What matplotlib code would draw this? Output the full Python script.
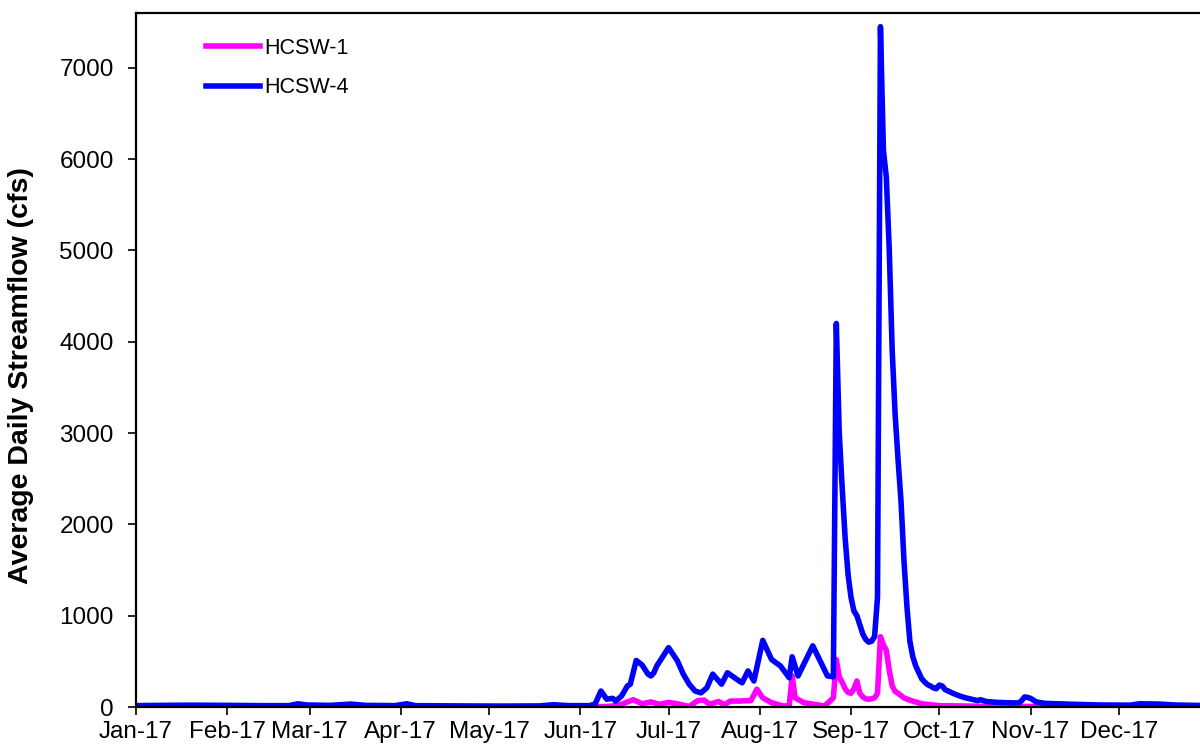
import matplotlib
matplotlib.use("Agg")
import matplotlib.pyplot as plt
import matplotlib.dates as mdates
import pandas as pd

# ── data ─────────────────────────────────────────────────────────────────────
hcsw4_dates = [
    "2017-01-01", "2017-01-10", "2017-01-20", "2017-02-01", "2017-02-12", "2017-02-22",
    "2017-02-25", "2017-02-28", "2017-03-08", "2017-03-15", "2017-03-20", "2017-03-30",
    "2017-04-03", "2017-04-06", "2017-04-20", "2017-05-05", "2017-05-18", "2017-05-23",
    "2017-05-28", "2017-06-04", "2017-06-06", "2017-06-08", "2017-06-10", "2017-06-12",
    "2017-06-13", "2017-06-15", "2017-06-17", "2017-06-18", "2017-06-20", "2017-06-22",
    "2017-06-24", "2017-06-25", "2017-06-26", "2017-06-27", "2017-07-01", "2017-07-04",
    "2017-07-06", "2017-07-08", "2017-07-10", "2017-07-12", "2017-07-14", "2017-07-16",
    "2017-07-19", "2017-07-21", "2017-07-25", "2017-07-26", "2017-07-28", "2017-07-30",
    "2017-08-02", "2017-08-05", "2017-08-08", "2017-08-11", "2017-08-12", "2017-08-14",
    "2017-08-19", "2017-08-24", "2017-08-26", "2017-08-27", "2017-08-28", "2017-08-29",
    "2017-08-30", "2017-08-31", "2017-09-01", "2017-09-02", "2017-09-03", "2017-09-04",
    "2017-09-05", "2017-09-06", "2017-09-07", "2017-09-08", "2017-09-09", "2017-09-10",
    "2017-09-11", "2017-09-12", "2017-09-13", "2017-09-14", "2017-09-15", "2017-09-16",
    "2017-09-17", "2017-09-18", "2017-09-19", "2017-09-20", "2017-09-21", "2017-09-22",
    "2017-09-23", "2017-09-24", "2017-09-25", "2017-09-26", "2017-09-27", "2017-09-28",
    "2017-09-29", "2017-09-30", "2017-10-01", "2017-10-02", "2017-10-03", "2017-10-04",
    "2017-10-05", "2017-10-06", "2017-10-08", "2017-10-10", "2017-10-14", "2017-10-15",
    "2017-10-17", "2017-10-21", "2017-10-26", "2017-10-28", "2017-10-29", "2017-10-30",
    "2017-10-31", "2017-11-01", "2017-11-03", "2017-11-06", "2017-11-15", "2017-11-25",
    "2017-12-05", "2017-12-08", "2017-12-15", "2017-12-20", "2017-12-31",
]
hcsw4_cfs = [
    15, 18, 20, 18, 15, 15,
    35, 22, 18, 32, 18, 15,
    35, 15, 12, 10, 12, 25,
    15, 15, 30, 175, 85, 95,
    65, 120, 230, 250, 510, 460,
    360, 340, 375, 450, 650, 505,
    360, 250, 175, 155, 210, 360,
    250, 375, 285, 265, 395, 285,
    730, 520, 450, 320, 550, 340,
    670, 340, 330, 4200, 3000, 2400,
    1850, 1450, 1200, 1050, 1000, 900,
    800, 740, 710, 720, 770, 1200,
    7450, 6100, 5800, 5000, 3900, 3200,
    2700, 2250, 1600, 1100, 720, 550,
    450, 380, 310, 275, 245, 230,
    210, 200, 240, 230, 190, 175,
    160, 145, 120, 100, 70, 80,
    60, 50, 45, 45, 70, 110,
    105, 95, 55, 40, 30, 22,
    20, 35, 32, 22, 15,
]

hcsw1_dates = [
    "2017-01-01", "2017-02-15", "2017-03-15", "2017-04-15", "2017-05-25", "2017-06-10",
    "2017-06-13", "2017-06-15", "2017-06-19", "2017-06-22", "2017-06-25", "2017-06-28",
    "2017-07-01", "2017-07-04", "2017-07-08", "2017-07-10", "2017-07-11", "2017-07-13",
    "2017-07-15", "2017-07-18", "2017-07-20", "2017-07-22", "2017-07-25", "2017-07-29",
    "2017-07-31", "2017-08-02", "2017-08-05", "2017-08-09", "2017-08-11", "2017-08-12",
    "2017-08-13", "2017-08-16", "2017-08-23", "2017-08-26", "2017-08-27", "2017-08-28",
    "2017-08-29", "2017-08-30", "2017-08-31", "2017-09-01", "2017-09-02", "2017-09-03",
    "2017-09-04", "2017-09-05", "2017-09-06", "2017-09-07", "2017-09-08", "2017-09-09",
    "2017-09-10", "2017-09-11", "2017-09-12", "2017-09-13", "2017-09-14", "2017-09-15",
    "2017-09-16", "2017-09-17", "2017-09-19", "2017-09-21", "2017-09-25", "2017-10-01",
    "2017-10-15", "2017-11-15", "2017-12-31",
]
hcsw1_cfs = [
    3, 3, 5, 3, 3, 5,
    15, 30, 80, 35, 55, 30,
    50, 35, 5, 50, 70, 75,
    30, 60, 25, 65, 65, 70,
    195, 100, 47, 11, 15, 340,
    100, 47, 11, 100, 520, 330,
    270, 200, 160, 150, 200, 285,
    150, 110, 90, 85, 90, 100,
    150, 770, 680, 620, 400, 230,
    170, 150, 100, 75, 35, 15,
    8, 5, 3,
]

month_ticks = pd.date_range("2017-01-01", "2017-12-01", freq="MS")

# ── figure ───────────────────────────────────────────────────────────────────
FONT = "Liberation Sans"
plt.rcParams["font.family"] = FONT

fig = plt.figure(figsize=(12, 7.46), dpi=100, facecolor="white")
# plot area runs past the right edge of the picture, as in the reference
ax = fig.add_axes([136 / 1200, 39 / 746, 1074 / 1200, 694 / 746])

ax.plot(pd.to_datetime(hcsw1_dates), hcsw1_cfs, color="#FF00FF", lw=4.0,
        solid_joinstyle="round", label="HCSW-1")
ax.plot(pd.to_datetime(hcsw4_dates), hcsw4_cfs, color="#0000FF", lw=4.0,
        solid_joinstyle="round", label="HCSW-4")

ax.set_xlim(pd.Timestamp("2017-01-01"), pd.Timestamp("2018-01-01"))
ax.set_ylim(0, 7600)
ax.set_yticks(range(0, 8000, 1000))
ax.set_xticks(month_ticks)
ax.xaxis.set_major_formatter(mdates.DateFormatter("%b-%y"))

ax.tick_params(axis="y", direction="out", length=6, width=1.2, pad=10, labelsize=17.5)
ax.tick_params(axis="x", direction="out", length=6, width=1.2, pad=4, labelsize=17.5)

for side in ("left", "bottom", "top", "right"):
    ax.spines[side].set_linewidth(1.6)
    ax.spines[side].set_color("black")

ax.set_ylabel("Average Daily Streamflow (cfs)", fontsize=20.5, fontweight="bold")
ax.yaxis.set_label_coords(-0.095, 0.477)

ax.legend(loc="upper left", bbox_to_anchor=(206 / 1200, 1 - 38 / 746),
          bbox_transform=fig.transFigure, frameon=False, fontsize=15.5,
          handlelength=2.5, handletextpad=0.2, labelspacing=0.85,
          borderpad=0, borderaxespad=0)

plt.savefig("out.png", dpi=100, facecolor="white")
